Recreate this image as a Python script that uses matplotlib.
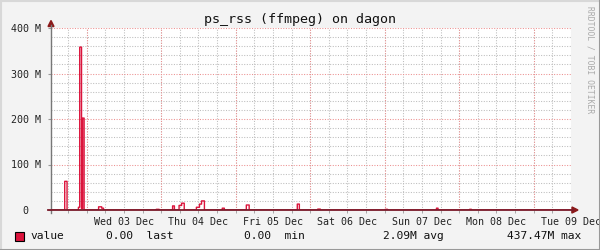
import numpy as np
import pandas as pd
import matplotlib
matplotlib.use('Agg')
import matplotlib.pyplot as plt
import matplotlib.dates as mdates
from matplotlib.lines import Line2D
from matplotlib.patches import Rectangle, Polygon

# --- data (ps_rss of ffmpeg, in MB) ---
spike_start = ['2025-12-02 16:51', '2025-12-02 21:16', '2025-12-02 21:41', '2025-12-02 22:19',
               '2025-12-02 22:39', '2025-12-03 03:48', '2025-12-03 04:46', '2025-12-03 22:23',
               '2025-12-04 03:39', '2025-12-04 05:42', '2025-12-04 06:32', '2025-12-04 11:17',
               '2025-12-04 12:20', '2025-12-04 12:59', '2025-12-04 19:39', '2025-12-05 03:23',
               '2025-12-05 19:49', '2025-12-06 02:21', '2025-12-07 00:10', '2025-12-07 16:36',
               '2025-12-08 03:19']
spike_end = ['2025-12-02 17:37', '2025-12-02 21:41', '2025-12-02 22:19', '2025-12-02 22:39',
             '2025-12-02 23:06', '2025-12-03 04:46', '2025-12-03 05:25', '2025-12-03 23:16',
             '2025-12-04 04:11', '2025-12-04 06:32', '2025-12-04 07:25', '2025-12-04 12:20',
             '2025-12-04 12:59', '2025-12-04 13:51', '2025-12-04 20:18', '2025-12-05 04:16',
             '2025-12-05 20:28', '2025-12-06 03:14', '2025-12-07 00:54', '2025-12-07 17:08',
             '2025-12-08 03:53']
spike_val = [63, 6, 358, 3, 202, 7, 4, 1.5, 9, 10, 15, 6, 13, 20, 4, 11, 13, 2, 1.5, 4, 1.5]

t_start = pd.Timestamp('2025-12-02 12:30')
t_end = pd.Timestamp('2025-12-09 12:00')
day_labels = ['Wed 03 Dec', 'Thu 04 Dec', 'Fri 05 Dec', 'Sat 06 Dec',
              'Sun 07 Dec', 'Mon 08 Dec', 'Tue 09 Dec']
y_ticks = [0, 100, 200, 300, 400]
y_labels = ['0  ', '100 M', '200 M', '300 M', '400 M']
legend_parts = [('value', 30), ('0.00  last', 106), ('0.00  min', 244),
                ('2.09M avg', 383), ('437.47M max', 507)]

LINE = '#DC143C'
MONO = 'DejaVu Sans Mono'
W, H = 600, 250

def fx(x):
    return x / W

def fy(y):
    return 1 - y / H

# step series on a 5 minute grid
t = pd.date_range(t_start, t_end, freq='5min')
vals = np.zeros(len(t))
for s, e, v in zip(spike_start, spike_end, spike_val):
    vals[(t >= pd.Timestamp(s)) & (t < pd.Timestamp(e))] = v

fig = plt.figure(figsize=(6, 2.5), dpi=100, facecolor='#F3F3F3')
ax = fig.add_axes([fx(51), fy(210), fx(520), 182 / H])
ax.set_facecolor('white')

ax.plot(t, vals, drawstyle='steps-post', color=LINE, lw=1.0, zorder=3)

ax.set_xlim(t_start, t_end)
ax.set_ylim(0, 400)

# grid
noon = pd.date_range('2025-12-03 12:00', periods=7, freq='D')
midnight = pd.date_range('2025-12-03', periods=7, freq='D')
ax.set_xticks(noon, day_labels)
ax.xaxis.set_minor_locator(mdates.HourLocator(byhour=[0, 6, 12, 18]))
ax.xaxis.remove_overlapping_locs = False
ax.set_yticks(y_ticks, y_labels)
ax.set_yticks(np.arange(0, 401, 20), minor=True)

ax.grid(which='minor', color='#BDBDBD', lw=0.75, ls=(0, (1, 1.5)))
ax.grid(which='major', axis='y', color='#EC9090', lw=0.75, ls=(0, (1, 1.5)))
for m in midnight:
    ax.axvline(m, color='#EC9090', lw=0.75, ls=(0, (1, 1.5)), zorder=1)
ax.set_axisbelow(True)

for sp in ax.spines.values():
    sp.set_visible(False)

ax.tick_params(axis='x', which='major', length=0, pad=5, labelsize=7.2, labelcolor='#222222')
ax.tick_params(axis='x', which='minor', length=2, color='#999999')
ax.tick_params(axis='y', which='major', length=2, pad=5, labelsize=7.2, labelcolor='#222222',
               color='#999999')
ax.tick_params(axis='y', which='minor', length=0)
for lab in ax.get_xticklabels() + ax.get_yticklabels():
    lab.set_fontfamily(MONO)

# axes lines and arrows
fig.add_artist(Line2D([fx(51), fx(51)], [fy(213), fy(25)], color='#777777', lw=1.0))
fig.add_artist(Line2D([fx(48), fx(573)], [fy(210), fy(210)], color='#7A1A2A', lw=1.3))
fig.add_artist(Polygon([(fx(572), fy(207)), (fx(578), fy(210)), (fx(572), fy(213))],
                       closed=True, color='#8B1A1A', transform=fig.transFigure))
fig.add_artist(Polygon([(fx(48), fy(26.5)), (fx(51), fy(20.5)), (fx(54), fy(26.5))],
                       closed=True, color='#8B1A1A', transform=fig.transFigure))

# title and watermark
fig.text(0.5, fy(19), 'ps_rss (ffmpeg) on dagon', ha='center', va='center',
         family=MONO, fontsize=9.6, color='#111111')
fig.text(fx(590), fy(60), 'RRDTOOL / TOBI OETIKER', rotation=270, ha='center', va='center',
         family=MONO, fontsize=5.8, color='#AAAAAA')

# legend
fig.add_artist(Rectangle((fx(15), fy(241)), fx(9), 9 / H, transform=fig.transFigure,
                         facecolor=LINE, edgecolor='black', lw=0.8))
for txt, x in legend_parts:
    fig.text(fx(x), fy(236), txt, ha='left', va='center', family=MONO,
             fontsize=8.1, color='#111111')

# 3d border
fig.add_artist(Line2D([0, 1], [fy(0.5), fy(0.5)], color='#D8D8D8', lw=1.5))
fig.add_artist(Line2D([fx(0.5), fx(0.5)], [0, 1], color='#D8D8D8', lw=1.5))
fig.add_artist(Line2D([0, 1], [fy(249.5), fy(249.5)], color='#999999', lw=1.5))
fig.add_artist(Line2D([fx(599.5), fx(599.5)], [0, 1], color='#999999', lw=1.5))

fig.savefig('out.png', dpi=100, facecolor=fig.get_facecolor())
